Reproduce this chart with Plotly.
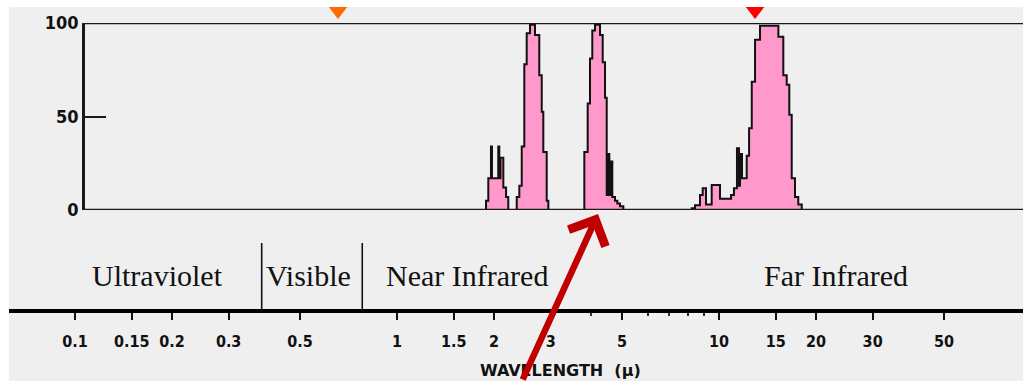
import numpy as np
import plotly.graph_objects as go

# Atmospheric transmission: wavelength (µm) of each step edge and the
# percent transmitted from that edge up to the next one.
wavelength_um = [
    0.106, 1.685, 1.890, 1.921, 1.958, 1.972, 2.063, 2.078, 2.096, 2.139, 2.181, 2.216,
    2.354, 2.398, 2.440, 2.485, 2.528, 2.588, 2.683, 2.766, 2.815, 2.847, 2.917, 2.951,
    3.817, 3.910, 3.975, 4.041, 4.120, 4.270, 4.353, 4.426, 4.480, 4.531, 4.564, 4.597,
    4.663, 4.754, 4.833, 4.926, 5.045,
    8.227, 8.424, 8.730, 8.900, 9.113, 9.491, 10.07, 10.90, 11.13, 11.37, 11.54, 11.62,
    11.79, 12.19, 12.40, 12.64, 12.94, 13.41, 15.29, 15.84, 16.23, 16.53, 16.82, 17.22,
    17.63, 18.07, 90.0,
]
transmission_pct = [
    0, 0, 5, 17, 34, 17, 34, 17, 28, 12, 7, 0,
    7, 13, 34, 78, 94.5, 99, 93.6, 72, 52.6, 31, 5, 0,
    31, 57, 81, 96, 99, 93.6, 79, 60, 8, 30, 8, 26,
    7, 5, 3.5, 2, 0,
    1, 2.5, 8, 11.6, 3, 13.4, 6, 8, 11.6, 33, 13, 30,
    17, 29, 43.7, 68.6, 91, 98.5, 92.7, 72, 67, 51, 17, 7,
    3, 0, 0,
]

y_ticks = [0, 50, 100]
x_ticks = [0.1, 0.15, 0.2, 0.3, 0.5, 1, 1.5, 2, 3, 5, 10, 15, 20, 30, 50]
x_tick_labels = ["0.1", "0.15", "0.2", "0.3", "0.5", "1", "1.5", "2", "3", "5",
                 "10", "15", "20", "30", "50"]
x_minor_ticks = [4, 6, 7, 8, 9]

region_names = ["Ultraviolet", "Visible", "Near Infrared", "Far Infrared"]
region_bounds_um = [0.38, 0.78]

peak_markers_um = [0.656, 12.94]
peak_colors = ["#ff6a00", "#ff0000"]

arrow_target_um = 4.21

# ---- layout geometry (pixels of the 1023x381 page) ----
W, H = 1023, 381
x_left_px = 9
x_range_log = [-1.2050, 1.9441]          # log10 µm at left/right page edges
box_left_px, box_top_px, box_bottom_px = 83, 23, 210
axis_line_px = 311


def px_x(p):
    return p / W


def px_y(p):
    return 1 - p / H


def wl_to_paper(v):
    d0 = x_left_px / W
    frac = (np.log10(v) - x_range_log[0]) / (x_range_log[1] - x_range_log[0])
    return d0 + frac * (1 - d0)


label_font = dict(family="Liberation Sans Narrow, DejaVu Sans Condensed, sans-serif",
                  color="#111111", weight="bold")

fig = go.Figure()

fig.add_trace(go.Scatter(
    x=wavelength_um, y=transmission_pct, mode="lines",
    line=dict(shape="hv", color="#111111", width=2),
    fill="tozeroy", fillcolor="#ff99cc",
    hoverinfo="skip", showlegend=False,
))

# peak markers above the panel, on their own thin strip axis
fig.add_trace(go.Scatter(
    x=peak_markers_um, y=[0.5, 0.5], mode="markers", yaxis="y2",
    marker=dict(symbol="triangle-down", size=16, color=peak_colors, line=dict(width=0)),
    cliponaxis=False, hoverinfo="skip", showlegend=False,
))

shapes = [
    # top and bottom frame of the transmission panel
    dict(type="line", xref="paper", yref="y", x0=px_x(box_left_px), x1=1, y0=100, y1=100,
         line=dict(color="#1a1a1a", width=2.5)),
    dict(type="line", xref="paper", yref="y", x0=px_x(box_left_px), x1=1, y0=0, y1=0,
         line=dict(color="#1a1a1a", width=2.5)),
    # grey page with white edges
    dict(type="rect", xref="paper", yref="paper", x0=0, x1=1, y0=px_y(7), y1=1,
         fillcolor="white", line=dict(width=0), layer="above"),
    dict(type="rect", xref="paper", yref="paper", x0=0, x1=px_x(x_left_px), y0=0, y1=1,
         fillcolor="white", line=dict(width=0), layer="above"),
]
for b in region_bounds_um:
    shapes.append(dict(type="line", xref="paper", yref="paper",
                       x0=wl_to_paper(b), x1=wl_to_paper(b),
                       y0=px_y(243), y1=px_y(axis_line_px),
                       line=dict(color="#111111", width=1.6)))

region_centers_px = [157.5, 308, 466.5, 835.5]
annotations = []
for name, cx in zip(region_names, region_centers_px):
    annotations.append(dict(
        text=name, xref="paper", yref="paper", x=px_x(cx), y=px_y(275),
        xanchor="center", yanchor="middle", showarrow=False,
        font=dict(family="Liberation Serif, DejaVu Serif, serif", size=30, color="#111111"),
    ))

annotations.append(dict(
    text="WAVELENGTH  (µ)", xref="paper", yref="paper", x=px_x(560), y=0,
    xanchor="center", yanchor="bottom", showarrow=False, borderpad=0,
    font=dict(family="DejaVu Sans, sans-serif", size=16, color="#111111", weight="bold"),
))

annotations.append(dict(
    text="", xref="x", yref="paper", x=np.log10(arrow_target_um), y=px_y(214),
    showarrow=True, axref="pixel", ayref="pixel", ax=-76, ay=183,
    arrowhead=4, arrowsize=1.2, arrowwidth=6.5, arrowcolor="#c00000", standoff=0,
))

fig.update_layout(
    width=W, height=H,
    margin=dict(l=0, r=0, t=0, b=0, autoexpand=False),
    paper_bgcolor="#efefef", plot_bgcolor="rgba(0,0,0,0)",
    showlegend=False,
    shapes=shapes, annotations=annotations,
    xaxis=dict(
        type="log", range=x_range_log, domain=[px_x(x_left_px), 1],
        anchor="free", position=px_y(axis_line_px), automargin=False,
        showline=True, linecolor="#000000", linewidth=3.5,
        showgrid=False, zeroline=False,
        tickmode="array", tickvals=x_ticks, ticktext=x_tick_labels,
        ticks="outside", ticklen=7, tickwidth=2, tickcolor="#111111",
        ticklabelstandoff=8,
        tickfont=dict(size=16, **label_font),
        minor=dict(tickmode="array", tickvals=x_minor_ticks, ticks="outside",
                   ticklen=3, tickwidth=2, tickcolor="#333333", showgrid=False),
    ),
    yaxis=dict(
        range=[0, 100], domain=[px_y(box_bottom_px), px_y(box_top_px)],
        anchor="free", position=px_x(box_left_px), automargin=False,
        showline=True, linecolor="#1a1a1a", linewidth=2.5,
        showgrid=False, zeroline=False,
        tickmode="array", tickvals=y_ticks,
        ticks="inside", ticklen=21, tickwidth=2, tickcolor="#1a1a1a",
        tickfont=dict(size=18, **label_font),
    ),
    yaxis2=dict(
        range=[0, 1], domain=[px_y(22), 1], anchor="x", visible=False,
        showgrid=False, zeroline=False, automargin=False,
    ),
)

fig.write_html("out.html", config={"displayModeBar": False})
